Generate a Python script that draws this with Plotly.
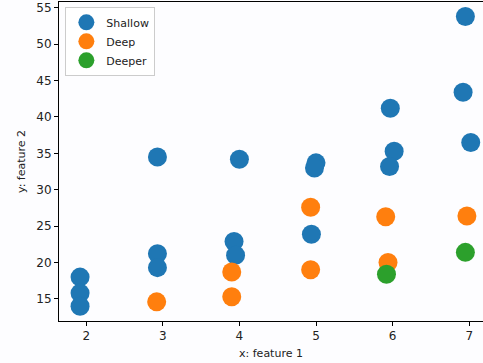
import plotly.graph_objects as go

shallow_x = [1.92, 1.92, 1.92, 2.93, 2.93, 2.93, 4.0, 3.93, 3.95, 5.0, 4.98, 4.94, 5.97, 6.02, 5.96, 6.95, 6.92, 7.02]
shallow_y = [18.0, 15.8, 14.0, 34.5, 21.2, 19.3, 34.2, 22.9, 21.0, 33.7, 33.0, 23.9, 41.2, 35.3, 33.2, 53.8, 43.4, 36.5]
deep_x = [2.92, 3.9, 3.9, 4.93, 4.93, 5.91, 5.94, 6.97]
deep_y = [14.6, 18.7, 15.3, 27.6, 19.0, 26.3, 20.0, 26.4]
deeper_x = [5.92, 6.95]
deeper_y = [18.4, 21.4]

series = [
    ("Shallow", shallow_x, shallow_y, "#1f77b4"),
    ("Deep", deep_x, deep_y, "#ff7f0e"),
    ("Deeper", deeper_x, deeper_y, "#2ca02c"),
]

fig = go.Figure()
for name, xs, ys, col in series:
    fig.add_trace(go.Scatter(x=xs, y=ys, mode="markers", name=name,
                             marker=dict(size=19, color=col, line=dict(width=0))))

fig.update_layout(
    width=483, height=363,
    margin=dict(l=59, r=0, t=2, b=42),
    paper_bgcolor="#fdfdff", plot_bgcolor="#fdfdff",
    font=dict(family="DejaVu Sans", size=12, color="#222"),
    showlegend=True,
    legend=dict(x=0.015, y=0.985, xanchor="left", yanchor="top",
                bgcolor="rgba(255,255,255,0.8)", bordercolor="#ccc", borderwidth=1,
                font=dict(size=11), itemsizing="trace", tracegroupgap=0),
)
fig.update_xaxes(range=[1.645, 7.18], tickvals=[2, 3, 4, 5, 6, 7], showgrid=False, zeroline=False,
                 showline=True, linecolor="black", linewidth=1, mirror=True, automargin=False,
                 ticks="outside", ticklen=4, tickcolor="black", tickfont=dict(size=12),
                 title=dict(text="x: feature 1", font=dict(size=11), standoff=6))
fig.update_yaxes(range=[11.97, 55.8], tickvals=[15, 20, 25, 30, 35, 40, 45, 50, 55], showgrid=False, zeroline=False,
                 showline=True, linecolor="black", linewidth=1, mirror=False, automargin=False,
                 ticks="outside", ticklen=4, tickcolor="black", tickfont=dict(size=12),
                 title=dict(text="y: feature 2", font=dict(size=11), standoff=8))

fig.write_html("out.html", config={"displayModeBar": False},
               post_script="document.body.style.margin='0';document.body.style.overflow='hidden';")
